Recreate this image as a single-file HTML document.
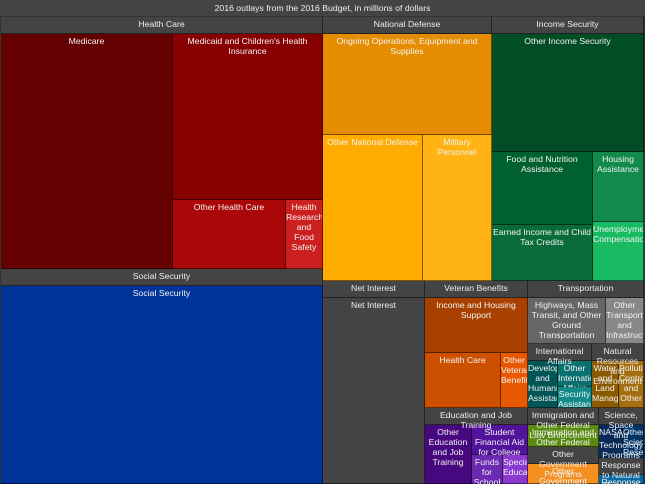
<!DOCTYPE html>
<html lang="en">
<head>
<meta charset="utf-8">
<title>2016 outlays treemap</title>
<style>
  html, body { margin: 0; padding: 0; width: 645px; height: 484px; overflow: hidden; background: #333; }
  #chart { position: relative; width: 645px; height: 484px; overflow: hidden; background: #333;
    font-family: "Liberation Sans", Arial, sans-serif; font-size: 8.7px; line-height: 10px; color: #f2f2f2; }
  .cell { position: absolute; box-sizing: border-box; padding: 2px 0 0; text-align: center; white-space: pre-line;
    overflow-x: clip; overflow-y: visible; border-right: 1px solid rgba(0,0,0,.5); border-bottom: 1px solid rgba(0,0,0,.5); }
  .header { background: #444; color: #eee; }
  #title { position: absolute; left: 0; top: 0; width: 645px; height: 17px; box-sizing: border-box; padding-top: 3px;
    background: #444; text-align: center; color: #eee; border-bottom: 1px solid #333; }
</style>
</head>
<body>
<div id="chart">
  <div id="title">2016 outlays from the 2016 Budget, in millions of dollars</div>
</div>
<script>
// Outlays in millions of dollars.
const healthCareNames = ["Medicare", "Medicaid and Children's Health Insurance", "Other Health Care", "Health Research and Food Safety"];
const healthCareValues = [577400, 355650, 111350, 36470];
const socialSecurityValues = [922230];
const defenseNames = ["Ongoing Operations, Equipment and Supplies", "Other National Defense", "Military Personnel"];
const defenseValues = [243050, 207900, 143450];
const incomeNames = ["Other Income Security", "Food and Nutrition Assistance", "Earned Income and Child Tax Credits", "Housing Assistance", "Unemployment Compensation"];
const incomeValues = [255350, 104970, 80530, 50820, 42830];
const netInterestValues = [275800];
const veteranNames = ["Income and Housing Support", "Health Care", "Other Veterans Benefits"];
const veteranValues = [87100, 64300, 22800];
const educationNames = ["Other Education and Job Training", "Student Financial Aid for College", "Funds for School", "Special Education"];
const educationValues = [47600, 28800, 15200, 12700];
const transportNames = ["Highways, Mass Transit, and Other Ground Transportation", "Other Transport and Infrastructure"];
const transportValues = [65400, 31900];
const intlNames = ["Development and Humanitarian Assistance", "Other International Affairs", "Security Assistance"];
const intlValues = [25600, 15800, 13200];
const naturalNames = ["Water and Land Management", "Pollution Control and Other"];
const naturalValues = [23000, 21300];
const immigrationValues = [36900];
const otherGovValues = [35000];
const scienceNames = ["NASA", "Other Science Research"];
const scienceValues = [16000, 14000];
const responseValues = [15600];

const HEADER_H = 17;
const chart = document.getElementById('chart');

function leaf(name, value, color) { return { name: name, value: value, color: color }; }
function split(dir, kids) { return { dir: dir, kids: kids }; }
function group(name, child) { return { group: name, child: child }; }
function total(n) {
  if (n.kids) return n.kids.reduce(function (s, k) { return s + total(k); }, 0);
  if (n.child) return total(n.child);
  return n.value;
}

const tree = split('h', [
  split('v', [
    group('Health Care', split('h', [
      leaf(healthCareNames[0], healthCareValues[0], '#640000'),
      split('v', [
        leaf(healthCareNames[1], healthCareValues[1], '#880000'),
        split('h', [
          leaf(healthCareNames[2], healthCareValues[2], '#aa0808'),
          leaf(healthCareNames[3], healthCareValues[3], '#cc2020')
        ])
      ])
    ])),
    group('Social Security', leaf('Social Security', socialSecurityValues[0], '#003399'))
  ]),
  split('v', [
    split('h', [
      group('National Defense', split('v', [
        leaf(defenseNames[0], defenseValues[0], '#e58c00'),
        split('h', [
          leaf(defenseNames[1], defenseValues[1], '#ffab00'),
          leaf(defenseNames[2], defenseValues[2], '#ffb414')
        ])
      ])),
      group('Income Security', split('v', [
        leaf(incomeNames[0], incomeValues[0], '#004d26'),
        split('h', [
          split('v', [
            leaf(incomeNames[1], incomeValues[1], '#00602f'),
            leaf(incomeNames[2], incomeValues[2], '#0a6b3a')
          ]),
          split('v', [
            leaf(incomeNames[3], incomeValues[3], '#128a4c'),
            leaf(incomeNames[4], incomeValues[4], '#19bb62')
          ])
        ])
      ]))
    ]),
    split('h', [
      group('Net Interest', leaf('Net Interest', netInterestValues[0], '#444444')),
      split('v', [
        group('Veteran Benefits', split('v', [
          leaf(veteranNames[0], veteranValues[0], '#a84100'),
          split('h', [
            leaf(veteranNames[1], veteranValues[1], '#cc5000'),
            leaf(veteranNames[2], veteranValues[2], '#e85800')
          ])
        ])),
        group('Education and Job Training', split('h', [
          leaf(educationNames[0], educationValues[0], '#47087f'),
          split('v', [
            leaf(educationNames[1], educationValues[1], '#52129a'),
            split('h', [
              leaf(educationNames[2], educationValues[2], '#6b2ab0'),
              leaf(educationNames[3], educationValues[3], '#8a3ad0')
            ])
          ])
        ]))
      ]),
      split('v', [
        group('Transportation', split('h', [
          leaf(transportNames[0], transportValues[0], '#666666'),
          leaf(transportNames[1], transportValues[1], '#888888')
        ])),
        split('h', [
          group('International Affairs', split('h', [
            leaf(intlNames[0], intlValues[0], '#005555'),
            split('v', [
              leaf(intlNames[1], intlValues[1], '#0a7070'),
              leaf(intlNames[2], intlValues[2], '#128a8a')
            ])
          ])),
          group('Natural Resources and Environment', split('h', [
            leaf(naturalNames[0], naturalValues[0], '#8a5a00'),
            leaf(naturalNames[1], naturalValues[1], '#a56f10')
          ]))
        ]),
        split('h', [
          split('v', [
            group('Immigration and Other Federal Law Enforcement', leaf('Immigration and Other Federal Law Enforcement', immigrationValues[0], '#5a8a10')),
            group('Other Government Programs', leaf('Other Government', otherGovValues[0], '#f59020'))
          ]),
          split('v', [
            group('Science,\nSpace\nand\nTechnology\nPrograms', split('h', [
              leaf(scienceNames[0], scienceValues[0], '#0a2a5a'),
              leaf(scienceNames[1], scienceValues[1], '#003366')
            ])),
            group('Response to Natural Disasters', leaf('Response', responseValues[0], '#0a6aa0'))
          ])
        ])
      ])
    ])
  ])
]);

function slug(s) {
  return s.toLowerCase().replace(/[^a-z0-9]+/g, '-').replace(/^-|-$/g, '');
}

function drawCell(text, x0, y0, x1, y1, color, isHeader) {
  const el = document.createElement('div');
  el.className = isHeader ? 'cell header' : 'cell';
  const l = Math.round(x0), t = Math.round(y0), r = Math.round(x1), b = Math.round(y1);
  el.style.left = l + 'px';
  el.style.top = t + 'px';
  el.style.width = (r - l) + 'px';
  el.style.height = (b - t) + 'px';
  if (color) el.style.background = color;
  el.textContent = text;
  
  
  chart.appendChild(el);
}

function layout(n, x0, y0, x1, y1) {
  if (n.kids) {
    const sum = total(n);
    let acc = 0;
    n.kids.forEach(function (k) {
      const a = acc / sum, v = total(k) / sum;
      if (n.dir === 'h') {
        layout(k, x0 + (x1 - x0) * a, y0, x0 + (x1 - x0) * (a + v), y1);
      } else {
        layout(k, x0, y0 + (y1 - y0) * a, x1, y0 + (y1 - y0) * (a + v));
      }
      acc += total(k);
    });
  } else if (n.child) {
    layout(n.child, x0, y0 + HEADER_H, x1, y1);
    drawCell(n.group, x0, y0, x1, y0 + HEADER_H, null, true);
  } else {
    drawCell(n.name, x0, y0, x1, y1, n.color, false);
  }
}

layout(tree, 1, 17, 644, 484);
</script>
</body>
</html>
